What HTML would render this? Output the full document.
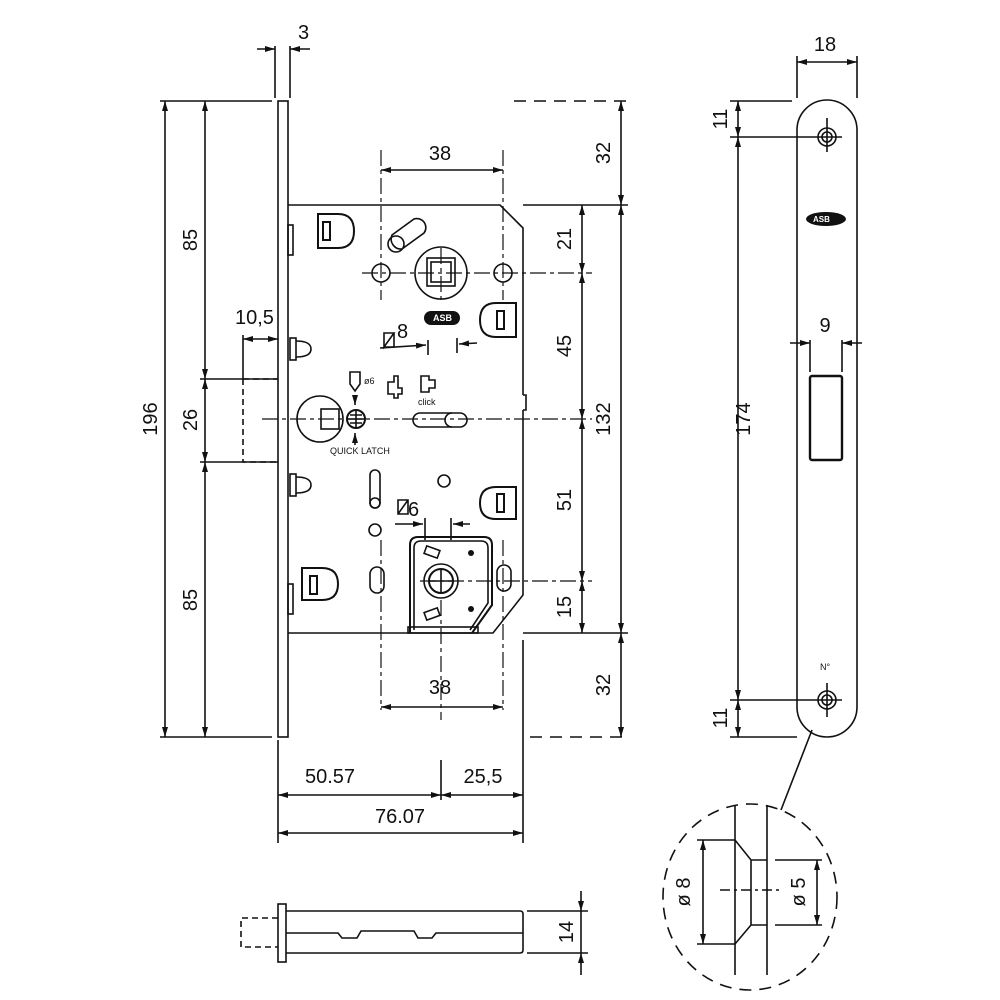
<!DOCTYPE html>
<html><head><meta charset="utf-8"><style>
html,body{margin:0;padding:0;background:#fff}
svg{display:block}
text{font-family:"Liberation Sans",sans-serif;fill:#111}
</style></head><body>
<svg width="1000" height="1000" viewBox="0 0 1000 1000" xmlns="http://www.w3.org/2000/svg">
<defs>
<marker id="a" viewBox="0 0 10 6" refX="10" refY="3" markerWidth="10" markerHeight="6" markerUnits="userSpaceOnUse" orient="auto-start-reverse"><path d="M0,0L10,3L0,6z" fill="#111"/></marker>
</defs>
<g stroke="#111" stroke-width="1.6" fill="none">
<!-- faceplate side -->
<rect x="278" y="101" width="10" height="636"/>
<!-- body -->
<path d="M288,205 H500 L523,228 V395 M523,410 V445 M523,445 V595 L493,633 H288"/>
<path d="M523,395 l3,0 v15 l-3,0" />
<rect x="288" y="225" width="5" height="30"/>
<rect x="288" y="584" width="5" height="30"/>
<!-- latch loops -->
<rect x="290" y="338" width="6" height="22"/><path d="M296,341 q15,0 15,8 q0,8 -15,8"/>
<rect x="290" y="474" width="6" height="22"/><path d="M296,477 q15,0 15,8 q0,8 -15,8"/>
<!-- D-shaped slots -->
<path d="M318,214 h20 q16,0 16,17 q0,17 -16,17 h-20z" stroke-width="2"/><rect x="323" y="222" width="7" height="18" stroke-width="2"/>
<path d="M516,303 h-20 q-16,0 -16,17 q0,17 16,17 h20z" stroke-width="2"/><rect x="497" y="311" width="7" height="18" stroke-width="2"/>
<path d="M516,487 h-20 q-16,0 -16,16 q0,16 16,16 h20z" stroke-width="2"/><rect x="497" y="494" width="7" height="18" stroke-width="2"/>
<path d="M302,568 h20 q16,0 16,16 q0,16 -16,16 h-20z" stroke-width="2"/><rect x="310" y="576" width="7" height="18" stroke-width="2"/>
<!-- top slot -->
<path d="M392,235 l22,-16 a9,9 0 0 1 10,14 l-22,16 a10,10 0 0 1 -10,-14z"/>
<circle cx="396" cy="244" r="8"/>
<circle cx="381" cy="273" r="9"/><circle cx="503" cy="273" r="9"/>
<circle cx="441" cy="273" r="26"/>
<rect x="427" y="258" width="28" height="28"/><rect x="431" y="262" width="20" height="20"/>
<!-- ASB logo -->
<g fill="#111" stroke="none"><circle cx="431" cy="318" r="7"/><circle cx="442" cy="318" r="7"/><circle cx="453" cy="318" r="7"/><rect x="431" y="311" width="22" height="14"/></g>
<!-- latch area -->
<circle cx="320" cy="419" r="23"/>
<rect x="321" y="409" width="18" height="20"/>
<circle cx="356" cy="419" r="9" stroke-width="2"/><path d="M347,419 h18 M356,411 v16 M350,415 h12 M350,423 h12"/>
<path d="M413,420 a7,7 0 0 1 7,-7 h40 a7,7 0 0 1 0,14 h-40 a7,7 0 0 1 -7,-7z"/><circle cx="460" cy="420" r="0"/><path d="M452,413 a7,7 0 0 0 0,14"/>
<path d="M350,372 h10 v12 l-5,7 l-5,-7z"/>
<path d="M388,382 h6 v-6 h4 v12 h4 v6 h-4 v4 h-4 v-4 h-6z"/>
<path d="M421,376 h8 v4 h6 v8 h-6 v4 h-8z"/>
<!-- lower -->
<rect x="370" y="470" width="10" height="38" rx="5"/><circle cx="375" cy="503" r="5"/>
<circle cx="444" cy="481" r="6"/><circle cx="375" cy="530" r="6"/>
<rect x="370" y="567" width="14" height="26" rx="7"/><rect x="497" y="565" width="14" height="26" rx="7"/>
<path d="M410,633 V545 q0,-8 8,-8 h66 q8,0 8,8 v60 l-20,28" stroke-width="2"/>
<path d="M414,630 V548 q0,-7 7,-7 h60 q7,0 7,7 v55 l-18,27"/>
<rect x="408" y="627" width="70" height="6"/>
<circle cx="441" cy="581" r="17"/><circle cx="441" cy="581" r="12" stroke-width="2"/>
<path d="M430,581h22M441,570v22"/>
<g fill="#111" stroke="none"><circle cx="471" cy="553" r="3"/><circle cx="471" cy="609" r="3"/></g>
<rect x="425" y="548" width="14" height="8" transform="rotate(20 432 552)"/>
<rect x="425" y="610" width="14" height="8" transform="rotate(-20 432 614)"/>
<!-- center lines -->
<g stroke-width="1.2" stroke-dasharray="16,4,4,4">
<path d="M362,273 H592"/><path d="M262,419 H592"/><path d="M420,581 H592"/>
<path d="M441,248 V300"/><path d="M381,150 V300"/><path d="M503,150 V300"/>
<path d="M381,540 V710"/><path d="M503,540 V710"/><path d="M441,600 V720"/>
</g>
<!-- dimension: left -->
<path d="M160,101 H272 M200,379 H278 M200,462 H278 M160,737 H272"/>
<path d="M243,379 V462 H278" stroke-dasharray="6,4"/><path d="M243,379 H278" stroke-dasharray="6,4"/>
<path d="M243,335 V379"/>
<path d="M165,101 V737" marker-start="url(#a)" marker-end="url(#a)"/>
<path d="M205,101 V379" marker-start="url(#a)" marker-end="url(#a)"/>
<path d="M205,379 V462" marker-start="url(#a)" marker-end="url(#a)"/>
<path d="M205,462 V737" marker-start="url(#a)" marker-end="url(#a)"/>
<path d="M243,339 H278" marker-start="url(#a)" marker-end="url(#a)"/>
<path d="M275,98 V46 M290,98 V46"/>
<path d="M257,49 H275" marker-end="url(#a)"/><path d="M310,49 H290" marker-end="url(#a)"/>
<!-- dimension right -->
<path d="M514,101 H628" stroke-dasharray="12,8"/><path d="M530,737 H628" stroke-dasharray="12,8"/>
<path d="M523,205 H628 M523,633 H628"/>
<path d="M621,101 V205" marker-start="url(#a)" marker-end="url(#a)"/>
<path d="M621,205 V633" marker-start="url(#a)" marker-end="url(#a)"/>
<path d="M621,633 V737" marker-start="url(#a)" marker-end="url(#a)"/>
<path d="M582,205 V273" marker-start="url(#a)" marker-end="url(#a)"/>
<path d="M582,273 V419" marker-start="url(#a)" marker-end="url(#a)"/>
<path d="M582,419 V581" marker-start="url(#a)" marker-end="url(#a)"/>
<path d="M582,581 V633" marker-start="url(#a)" marker-end="url(#a)"/>
<path d="M381,170 H503" marker-start="url(#a)" marker-end="url(#a)"/>
<path d="M381,707 H503" marker-start="url(#a)" marker-end="url(#a)"/>
<path d="M278,740 V843 M523,640 V843 M441,760 V800"/>
<path d="M278,795 H441" marker-start="url(#a)" marker-end="url(#a)"/>
<path d="M441,795 H523" marker-start="url(#a)" marker-end="url(#a)"/>
<path d="M278,833 H523" marker-start="url(#a)" marker-end="url(#a)"/>
<!-- small dims -->
<path d="M380,348 L426,345" marker-end="url(#a)"/><path d="M428,340V355M457,338V353"/><path d="M477,343 L459,344" marker-end="url(#a)"/>
<path d="M395,524 H423" marker-end="url(#a)"/><path d="M425,518V540M451,518V540"/><path d="M470,524 H453" marker-end="url(#a)"/>
<path d="M355,395 v10" marker-end="url(#a)"/><path d="M355,445 v-12" marker-end="url(#a)"/>
<!-- right faceplate -->
<path d="M797,130 a30,30 0 0 1 60,0 V707 a30,30 0 0 1 -60,0z"/>
<circle cx="827" cy="137" r="9"/><circle cx="827" cy="137" r="5"/><path d="M812,137 H842 M827,118 V152"/>
<circle cx="827" cy="700" r="9"/><circle cx="827" cy="700" r="5"/><path d="M812,700 H842 M827,683 V717"/>
<rect x="810" y="376" width="32" height="84" rx="2" stroke-width="2.4"/>
<path d="M797,98 V56 M857,98 V56"/>
<path d="M797,62 H857" marker-start="url(#a)" marker-end="url(#a)"/>
<path d="M810,340 V372 M842,340 V372"/>
<path d="M790,343 H810" marker-end="url(#a)"/><path d="M862,343 H842" marker-end="url(#a)"/>
<path d="M730,101 H792 M730,137 H812 M730,700 H812 M730,737 H797"/>
<path d="M738,101 V137" marker-start="url(#a)" marker-end="url(#a)"/>
<path d="M738,137 V700" marker-start="url(#a)" marker-end="url(#a)"/>
<path d="M738,700 V737" marker-start="url(#a)" marker-end="url(#a)"/>
<!-- detail -->
<path d="M812,730 L781,810"/>
<ellipse cx="750" cy="897" rx="87" ry="93" stroke-dasharray="12,8"/>
<path d="M735,805 V975 M767,805 V975"/>
<path d="M697,840 H735 L751,860 H767 M697,944 H735 L751,925 H767 M751,860 V925 M775,860 H822 M775,925 H822"/>
<path d="M720,890 H780" stroke-dasharray="10,4,3,4"/>
<path d="M703,840 V944" marker-start="url(#a)" marker-end="url(#a)"/>
<path d="M817,860 V925" marker-start="url(#a)" marker-end="url(#a)"/>
<!-- bottom cylinder -->
<rect x="278" y="904" width="8" height="58"/>
<path d="M286,911 H520 q3,0 3,3 V950 q0,3 -3,3 H286"/>
<path d="M286,933 H338 l4,5 h15 l4,-7 h53 l4,7 h14 l4,-5 H523"/>
<path d="M278,918 H241 V947 H278" stroke-dasharray="6,4"/>
<path d="M527,911 H588 M527,953 H588"/>
<path d="M581,891 V911" marker-end="url(#a)"/><path d="M581,975 V953" marker-end="url(#a)"/>
<path d="M581,911 V953"/>
</g>
<g font-size="20">
<text x="298" y="39">3</text>
<text x="440" y="160" text-anchor="middle">38</text>
<text x="440" y="694" text-anchor="middle">38</text>
<text x="330" y="783" text-anchor="middle">50.57</text>
<text x="483" y="783" text-anchor="middle">25,5</text>
<text x="400" y="823" text-anchor="middle">76.07</text>
<text x="825" y="51" text-anchor="middle">18</text>
<text x="825" y="332" text-anchor="middle">9</text>
<text x="235" y="324">10,5</text>
<text x="397" y="338">8</text><text x="408" y="516">6</text>
<text transform="translate(157,419) rotate(-90)" text-anchor="middle">196</text>
<text transform="translate(197,240) rotate(-90)" text-anchor="middle">85</text>
<text transform="translate(197,420) rotate(-90)" text-anchor="middle">26</text>
<text transform="translate(197,600) rotate(-90)" text-anchor="middle">85</text>
<text transform="translate(610,153) rotate(-90)" text-anchor="middle">32</text>
<text transform="translate(610,419) rotate(-90)" text-anchor="middle">132</text>
<text transform="translate(610,685) rotate(-90)" text-anchor="middle">32</text>
<text transform="translate(571,239) rotate(-90)" text-anchor="middle">21</text>
<text transform="translate(571,346) rotate(-90)" text-anchor="middle">45</text>
<text transform="translate(571,500) rotate(-90)" text-anchor="middle">51</text>
<text transform="translate(571,607) rotate(-90)" text-anchor="middle">15</text>
<text transform="translate(727,119) rotate(-90)" text-anchor="middle">11</text>
<text transform="translate(750,419) rotate(-90)" text-anchor="middle">174</text>
<text transform="translate(727,718) rotate(-90)" text-anchor="middle">11</text>
<text transform="translate(573,932) rotate(-90)" text-anchor="middle">14</text>
<text transform="translate(690,892) rotate(-90)" text-anchor="middle">ø 8</text>
<text transform="translate(805,892) rotate(-90)" text-anchor="middle">ø 5</text>
</g>
<g font-size="9">
<text x="330" y="454">QUICK LATCH</text>
<text x="418" y="405">click</text>
<text x="364" y="384">ø6</text>
<text x="820" y="670">N°</text>
</g>
<g font-size="9" fill="#fff"><text x="433" y="321" style="fill:#fff;font-weight:bold">ASB</text></g>
<g fill="#111"><ellipse cx="826" cy="219" rx="20" ry="7"/></g>
<text x="813" y="222" font-size="8" style="fill:#fff;font-weight:bold">ASB</text>
<g fill="none" stroke="#111" stroke-width="1.6"><path d="M384,333 h10 l-10,14z M384,333 v14 h10 v-14"/><path d="M398,500 h10 v14 h-10z M398,514 l10,-14"/></g>
</svg>
</body></html>
